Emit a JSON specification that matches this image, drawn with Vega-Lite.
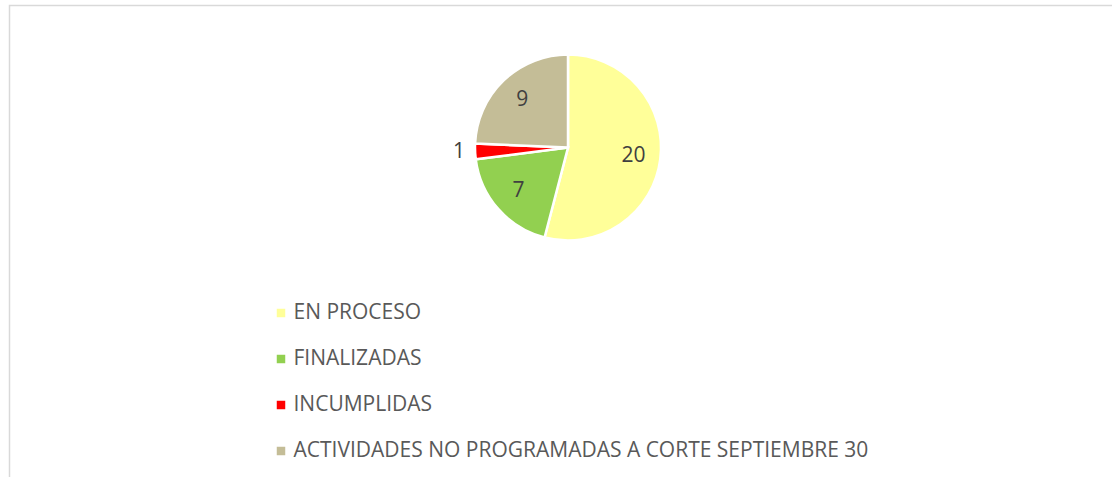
{
  "$schema": "https://vega.github.io/schema/vega-lite/v6.json",
  "width": 1117,
  "height": 480,
  "padding": {"left": 9.5, "top": 5.5, "right": 0, "bottom": 0},
  "autosize": {"type": "none"},
  "background": "white",
  "view": {"stroke": "#d9d9d9", "strokeWidth": 1.5, "fill": "white"},
  "data": {
    "values": [
      {"estado": "EN PROCESO", "n": 20, "orden": 1},
      {"estado": "FINALIZADAS", "n": 7, "orden": 2},
      {"estado": "INCUMPLIDAS", "n": 1, "orden": 3},
      {"estado": "ACTIVIDADES NO PROGRAMADAS A CORTE SEPTIEMBRE 30", "n": 9, "orden": 4}
    ]
  },
  "encoding": {
    "theta": {"field": "n", "type": "quantitative", "stack": true},
    "order": {"field": "orden", "type": "quantitative"}
  },
  "layer": [
    {
      "mark": {"type": "arc", "outerRadius": 93, "stroke": "white", "strokeWidth": 2.5, "y": 142},
      "encoding": {
        "color": {
          "field": "estado",
          "type": "nominal",
          "sort": null,
          "scale": {
            "domain": ["EN PROCESO", "FINALIZADAS", "INCUMPLIDAS", "ACTIVIDADES NO PROGRAMADAS A CORTE SEPTIEMBRE 30"],
            "range": ["#FFFF99", "#92D050", "#FF0000", "#C4BD97"]
          },
          "legend": {
            "title": null,
            "orient": "none",
            "legendX": 261,
            "legendY": 297,
            "symbolType": "square",
            "symbolSize": 72,
            "symbolStrokeWidth": 0,
            "labelFont": "Open Sans",
            "labelFontSize": 21,
            "labelColor": "#595959",
            "labelOffset": 2,
            "rowPadding": 24,
            "labelLimit": 800,
            "padding": 0
          }
        }
      }
    },
    {
      "mark": {"type": "text", "radius": 66, "y": 142, "font": "Open Sans", "fontSize": 21, "color": "#404040"},
      "encoding": {
        "text": {"condition": {"test": "datum.n > 1", "field": "n", "type": "quantitative"}, "value": ""}
      }
    },
    {
      "mark": {"type": "text", "radius": 109, "y": 142, "font": "Open Sans", "fontSize": 21, "color": "#404040"},
      "encoding": {
        "text": {"condition": {"test": "datum.n <= 1", "field": "n", "type": "quantitative"}, "value": ""}
      }
    }
  ]
}
